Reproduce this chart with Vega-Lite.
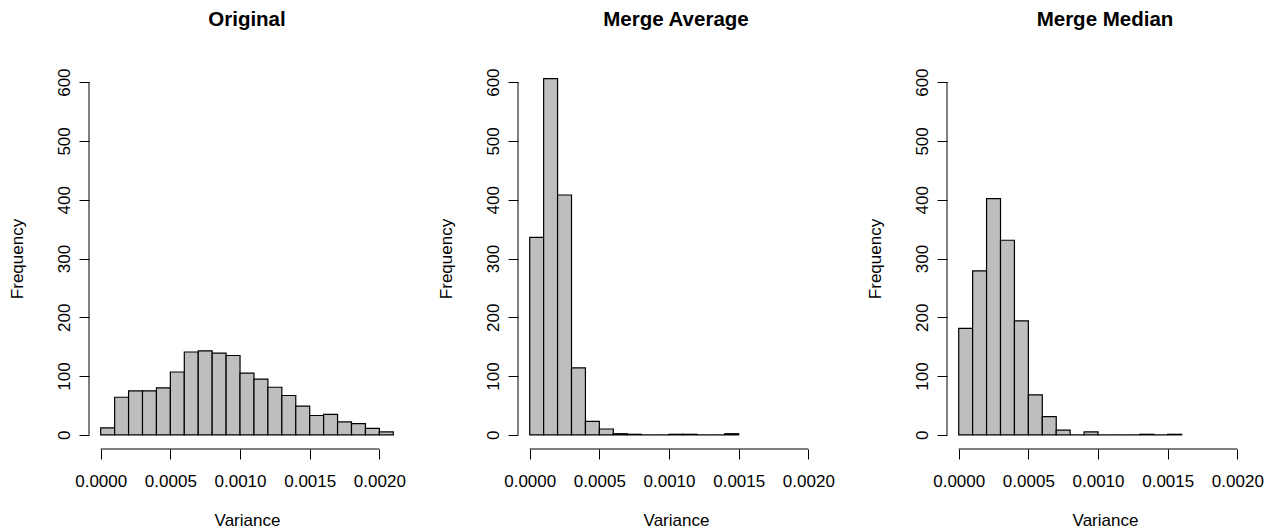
{
  "$schema": "https://vega.github.io/schema/vega-lite/v6.json",
  "background": "white",
  "padding": {"left": 8, "top": 10, "right": 5, "bottom": 3},
  "bounds": "flush",
  "spacing": 113,
  "data": {
    "values": [
      {"panel": "Original", "bin_start": 0.0000, "bin_end": 0.0001, "count": 12},
      {"panel": "Original", "bin_start": 0.0001, "bin_end": 0.0002, "count": 64},
      {"panel": "Original", "bin_start": 0.0002, "bin_end": 0.0003, "count": 75},
      {"panel": "Original", "bin_start": 0.0003, "bin_end": 0.0004, "count": 75},
      {"panel": "Original", "bin_start": 0.0004, "bin_end": 0.0005, "count": 80},
      {"panel": "Original", "bin_start": 0.0005, "bin_end": 0.0006, "count": 107},
      {"panel": "Original", "bin_start": 0.0006, "bin_end": 0.0007, "count": 141},
      {"panel": "Original", "bin_start": 0.0007, "bin_end": 0.0008, "count": 143},
      {"panel": "Original", "bin_start": 0.0008, "bin_end": 0.0009, "count": 139},
      {"panel": "Original", "bin_start": 0.0009, "bin_end": 0.0010, "count": 135},
      {"panel": "Original", "bin_start": 0.0010, "bin_end": 0.0011, "count": 105},
      {"panel": "Original", "bin_start": 0.0011, "bin_end": 0.0012, "count": 95},
      {"panel": "Original", "bin_start": 0.0012, "bin_end": 0.0013, "count": 81},
      {"panel": "Original", "bin_start": 0.0013, "bin_end": 0.0014, "count": 67},
      {"panel": "Original", "bin_start": 0.0014, "bin_end": 0.0015, "count": 49},
      {"panel": "Original", "bin_start": 0.0015, "bin_end": 0.0016, "count": 33},
      {"panel": "Original", "bin_start": 0.0016, "bin_end": 0.0017, "count": 35},
      {"panel": "Original", "bin_start": 0.0017, "bin_end": 0.0018, "count": 22},
      {"panel": "Original", "bin_start": 0.0018, "bin_end": 0.0019, "count": 19},
      {"panel": "Original", "bin_start": 0.0019, "bin_end": 0.0020, "count": 11},
      {"panel": "Original", "bin_start": 0.0020, "bin_end": 0.0021, "count": 5},
      {"panel": "Merge Average", "bin_start": 0.0000, "bin_end": 0.0001, "count": 336},
      {"panel": "Merge Average", "bin_start": 0.0001, "bin_end": 0.0002, "count": 606},
      {"panel": "Merge Average", "bin_start": 0.0002, "bin_end": 0.0003, "count": 408},
      {"panel": "Merge Average", "bin_start": 0.0003, "bin_end": 0.0004, "count": 114},
      {"panel": "Merge Average", "bin_start": 0.0004, "bin_end": 0.0005, "count": 23},
      {"panel": "Merge Average", "bin_start": 0.0005, "bin_end": 0.0006, "count": 10},
      {"panel": "Merge Average", "bin_start": 0.0006, "bin_end": 0.0007, "count": 2},
      {"panel": "Merge Average", "bin_start": 0.0007, "bin_end": 0.0008, "count": 1},
      {"panel": "Merge Average", "bin_start": 0.0008, "bin_end": 0.0009, "count": 0},
      {"panel": "Merge Average", "bin_start": 0.0009, "bin_end": 0.0010, "count": 0},
      {"panel": "Merge Average", "bin_start": 0.0010, "bin_end": 0.0011, "count": 1},
      {"panel": "Merge Average", "bin_start": 0.0011, "bin_end": 0.0012, "count": 1},
      {"panel": "Merge Average", "bin_start": 0.0012, "bin_end": 0.0013, "count": 0},
      {"panel": "Merge Average", "bin_start": 0.0013, "bin_end": 0.0014, "count": 0},
      {"panel": "Merge Average", "bin_start": 0.0014, "bin_end": 0.0015, "count": 2},
      {"panel": "Merge Median", "bin_start": 0.0000, "bin_end": 0.0001, "count": 181},
      {"panel": "Merge Median", "bin_start": 0.0001, "bin_end": 0.0002, "count": 279},
      {"panel": "Merge Median", "bin_start": 0.0002, "bin_end": 0.0003, "count": 402},
      {"panel": "Merge Median", "bin_start": 0.0003, "bin_end": 0.0004, "count": 331},
      {"panel": "Merge Median", "bin_start": 0.0004, "bin_end": 0.0005, "count": 194},
      {"panel": "Merge Median", "bin_start": 0.0005, "bin_end": 0.0006, "count": 68},
      {"panel": "Merge Median", "bin_start": 0.0006, "bin_end": 0.0007, "count": 31},
      {"panel": "Merge Median", "bin_start": 0.0007, "bin_end": 0.0008, "count": 8},
      {"panel": "Merge Median", "bin_start": 0.0008, "bin_end": 0.0009, "count": 0},
      {"panel": "Merge Median", "bin_start": 0.0009, "bin_end": 0.0010, "count": 5},
      {"panel": "Merge Median", "bin_start": 0.0010, "bin_end": 0.0011, "count": 0},
      {"panel": "Merge Median", "bin_start": 0.0011, "bin_end": 0.0012, "count": 0},
      {"panel": "Merge Median", "bin_start": 0.0012, "bin_end": 0.0013, "count": 0},
      {"panel": "Merge Median", "bin_start": 0.0013, "bin_end": 0.0014, "count": 1},
      {"panel": "Merge Median", "bin_start": 0.0014, "bin_end": 0.0015, "count": 0},
      {"panel": "Merge Median", "bin_start": 0.0015, "bin_end": 0.0016, "count": 1}
    ]
  },
  "hconcat": [
    {
      "title": {"text": "Original"},
      "width": 316,
      "height": 381,
      "layer": [
        {
          "transform": [{"filter": "datum.panel === 'Original'"}],
          "mark": {"type": "rect", "fill": "#bebebe", "stroke": "black", "strokeWidth": 1.2},
          "encoding": {
            "x": {"field": "bin_start", "type": "quantitative", "scale": {"domain": [-0.000084, 0.002184], "nice": false, "zero": false}, "axis": {"title": "Variance", "values": [0, 0.0005, 0.001, 0.0015, 0.002], "format": ".4f"}},
            "x2": {"field": "bin_end"},
            "y": {"field": "count", "type": "quantitative", "scale": {"domain": [-24, 624], "nice": false, "zero": false}, "axis": {"title": "Frequency", "values": [0, 100, 200, 300, 400, 500, 600]}},
            "y2": {"datum": 0}
          }
        },
        {
          "data": {"values": [{}]},
          "mark": {"type": "rule", "color": "black", "strokeWidth": 1},
          "encoding": {"x": {"datum": 0, "type": "quantitative"}, "x2": {"datum": 0.002}, "y": {"datum": -24, "type": "quantitative"}}
        },
        {
          "data": {"values": [{}]},
          "mark": {"type": "rule", "color": "black", "strokeWidth": 1},
          "encoding": {"x": {"datum": -0.000084, "type": "quantitative"}, "y": {"datum": 0, "type": "quantitative"}, "y2": {"datum": 600}}
        }
      ]
    },
    {
      "title": {"text": "Merge Average"},
      "width": 316,
      "height": 381,
      "layer": [
        {
          "transform": [{"filter": "datum.panel === 'Merge Average'"}],
          "mark": {"type": "rect", "fill": "#bebebe", "stroke": "black", "strokeWidth": 1.2},
          "encoding": {
            "x": {"field": "bin_start", "type": "quantitative", "scale": {"domain": [-0.000084, 0.002184], "nice": false, "zero": false}, "axis": {"title": "Variance", "values": [0, 0.0005, 0.001, 0.0015, 0.002], "format": ".4f"}},
            "x2": {"field": "bin_end"},
            "y": {"field": "count", "type": "quantitative", "scale": {"domain": [-24, 624], "nice": false, "zero": false}, "axis": {"title": "Frequency", "values": [0, 100, 200, 300, 400, 500, 600]}},
            "y2": {"datum": 0}
          }
        },
        {
          "data": {"values": [{}]},
          "mark": {"type": "rule", "color": "black", "strokeWidth": 1},
          "encoding": {"x": {"datum": 0, "type": "quantitative"}, "x2": {"datum": 0.002}, "y": {"datum": -24, "type": "quantitative"}}
        },
        {
          "data": {"values": [{}]},
          "mark": {"type": "rule", "color": "black", "strokeWidth": 1},
          "encoding": {"x": {"datum": -0.000084, "type": "quantitative"}, "y": {"datum": 0, "type": "quantitative"}, "y2": {"datum": 600}}
        }
      ]
    },
    {
      "title": {"text": "Merge Median"},
      "width": 316,
      "height": 381,
      "layer": [
        {
          "transform": [{"filter": "datum.panel === 'Merge Median'"}],
          "mark": {"type": "rect", "fill": "#bebebe", "stroke": "black", "strokeWidth": 1.2},
          "encoding": {
            "x": {"field": "bin_start", "type": "quantitative", "scale": {"domain": [-0.000084, 0.002184], "nice": false, "zero": false}, "axis": {"title": "Variance", "values": [0, 0.0005, 0.001, 0.0015, 0.002], "format": ".4f"}},
            "x2": {"field": "bin_end"},
            "y": {"field": "count", "type": "quantitative", "scale": {"domain": [-24, 624], "nice": false, "zero": false}, "axis": {"title": "Frequency", "values": [0, 100, 200, 300, 400, 500, 600]}},
            "y2": {"datum": 0}
          }
        },
        {
          "data": {"values": [{}]},
          "mark": {"type": "rule", "color": "black", "strokeWidth": 1},
          "encoding": {"x": {"datum": 0, "type": "quantitative"}, "x2": {"datum": 0.002}, "y": {"datum": -24, "type": "quantitative"}}
        },
        {
          "data": {"values": [{}]},
          "mark": {"type": "rule", "color": "black", "strokeWidth": 1},
          "encoding": {"x": {"datum": -0.000084, "type": "quantitative"}, "y": {"datum": 0, "type": "quantitative"}, "y2": {"datum": 600}}
        }
      ]
    }
  ],
  "config": {
    "view": {"stroke": null},
    "font": "Liberation Sans",
    "title": {"font": "Liberation Sans", "fontSize": 20.5, "fontWeight": "bold", "color": "black", "anchor": "middle", "baseline": "alphabetic", "offset": 37, "frame": "group"},
    "axis": {
      "domain": false,
      "grid": false,
      "ticks": true,
      "tickColor": "black",
      "tickSize": 10,
      "tickWidth": 1,
      "labelFont": "Liberation Sans",
      "labelFontSize": 17,
      "labelColor": "black",
      "titleFont": "Liberation Sans",
      "titleFontSize": 17,
      "titleFontWeight": "normal",
      "titleColor": "black"
    },
    "axisX": {"labelPadding": 14, "labelBaseline": "top", "titlePadding": 23, "labelFlush": false, "labelOverlap": false},
    "axisY": {"labelAngle": -90, "labelAlign": "center", "labelBaseline": "alphabetic", "labelPadding": 10, "titlePadding": 29, "labelOverlap": false}
  }
}
